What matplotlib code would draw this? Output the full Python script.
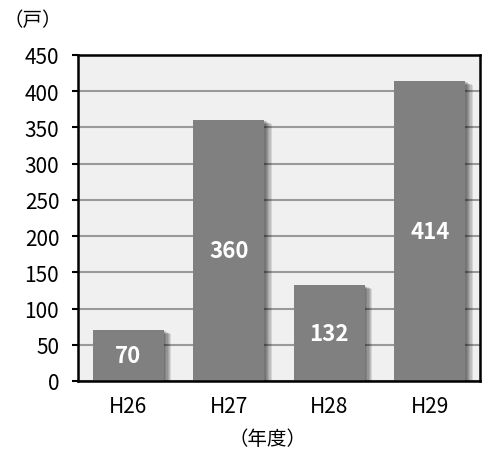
import matplotlib
matplotlib.use("Agg")
import matplotlib.pyplot as plt
import matplotlib.patheffects as pe

categories = ["H26", "H27", "H28", "H29"]
values = [70, 360, 132, 414]
yticks = [0, 50, 100, 150, 200, 250, 300, 350, 400, 450]

plt.rcParams['font.family'] = ['Noto Sans CJK JP', 'DejaVu Sans']

fig = plt.figure(figsize=(4.82, 4.52), dpi=100)
ax = fig.add_axes([78/482, 70/452, 402/482, 326/452])
ax.set_facecolor("#f0f0f0")

x = list(range(len(categories)))
bars = ax.bar(x, values, width=0.71, color="#808080", zorder=3)

effects = []
for i in range(6):
    off = 0.8 + i * 0.9
    effects.append(pe.SimplePatchShadow(offset=(off, -0.5 * off), shadow_rgbFace="black", alpha=0.11))
effects.append(pe.Normal())
for b in bars:
    b.set_path_effects(effects)

for xi, v in zip(x, values):
    ax.text(xi, v / 2, str(v), ha="center", va="center", color="white",
            fontsize=16, fontweight="bold", zorder=5)

ax.set_xlim(-0.5, 3.5)
ax.set_ylim(0, 450)
ax.set_yticks(yticks)
ax.set_xticks(x)
ax.set_xticklabels(categories)
ax.yaxis.grid(True, color="#999999", linewidth=1.5, zorder=1)
ax.set_axisbelow(True)
ax.tick_params(axis="y", length=4.5, width=1.5, labelsize=15, pad=9, color="black")
ax.tick_params(axis="x", length=0, labelsize=15, pad=10)
for s in ax.spines.values():
    s.set_linewidth(1.8)
    s.set_color("black")
    s.set_zorder(6)

fig.text(33/482, 1 - 21/452, "（戸）", ha="center", va="center", fontsize=14)
fig.text(268/482, 1 - 440/452, "（年度）", ha="center", va="center", fontsize=14)

fig.savefig("out.png", dpi=100)
